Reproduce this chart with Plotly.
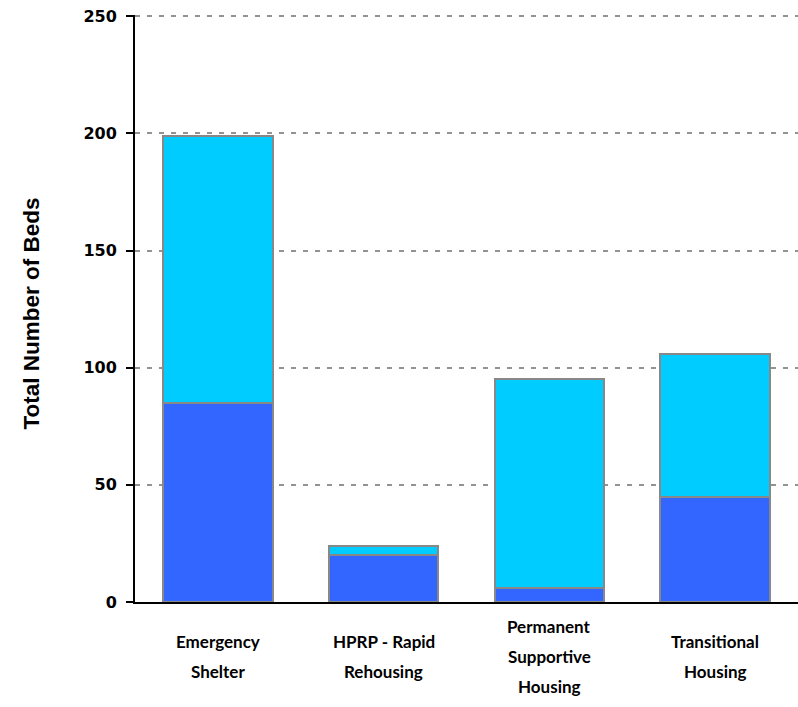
import plotly.graph_objects as go

categories = ["Emergency Shelter", "HPRP - Rapid Rehousing", "Permanent Supportive Housing", "Transitional Housing"]
label_lines = [["Emergency", "Shelter"], ["HPRP - Rapid", "Rehousing"], ["Permanent", "Supportive", "Housing"], ["Transitional", "Housing"]]
lower_values = [85, 20, 6, 45]
upper_values = [114, 4, 89, 61]
y_ticks = [0, 50, 100, 150, 200, 250]

CAT_FONT = "Lato, 'Open Sans', Arial, sans-serif"
TICK_FONT = "'DejaVu Sans', Verdana, sans-serif"
TITLE_FONT = "'Liberation Sans', Arial, sans-serif"

fig = go.Figure()
fig.add_trace(go.Bar(x=categories, y=lower_values, marker=dict(color="#3366FF", line=dict(color="#888888", width=2)), width=0.66))
fig.add_trace(go.Bar(x=categories, y=upper_values, marker=dict(color="#00CCFF", line=dict(color="#888888", width=2)), width=0.66))

line_h = 30
annotations = []
for cat, lines in zip(categories, label_lines):
    n = len(lines)
    for i, ln in enumerate(lines):
        offset = -(i - (n - 1) / 2) * line_h
        annotations.append(dict(x=cat, xref="x", y=0, yref="y", yshift=-54 + offset,
                                text=f"<b>{ln}</b>", showarrow=False, xanchor="center", yanchor="middle",
                                font=dict(family=CAT_FONT, size=17, color="#000000")))
annotations.append(dict(x=0, xref="paper", xshift=-104, y=0.5, yref="paper", yshift=-5,
                        text="<b>Total Number of Beds</b>",
                        textangle=-90, showarrow=False, xanchor="center", yanchor="middle",
                        font=dict(family=TITLE_FONT, size=22.5, color="#000000")))

fig.update_layout(
    barmode="stack",
    width=798, height=707,
    margin=dict(l=135, r=0, t=15, b=105),
    plot_bgcolor="white", paper_bgcolor="white",
    showlegend=False,
    bargap=0.34,
    annotations=annotations,
)
fig.update_xaxes(showticklabels=False, showline=True, linecolor="#000000", linewidth=2, ticks="", showgrid=False,
                 range=[-0.5, 3.5])
fig.update_yaxes(range=[0, 250.5], tickvals=y_ticks, ticktext=[f"<b>{v}</b>" for v in y_ticks],
                 showline=True, linecolor="#000000", linewidth=2, ticks="outside", ticklen=7, tickwidth=2,
                 tickcolor="#000000", ticklabelstandoff=6,
                 showgrid=True, gridcolor="#939393", gridwidth=2, griddash="5px,7px",
                 tickfont=dict(family=TICK_FONT, size=16, color="#000000"), zeroline=False)

fig.write_html("out.html", config={"displayModeBar": False},
               post_script="document.body.style.margin='0';document.body.style.overflow='hidden';")
